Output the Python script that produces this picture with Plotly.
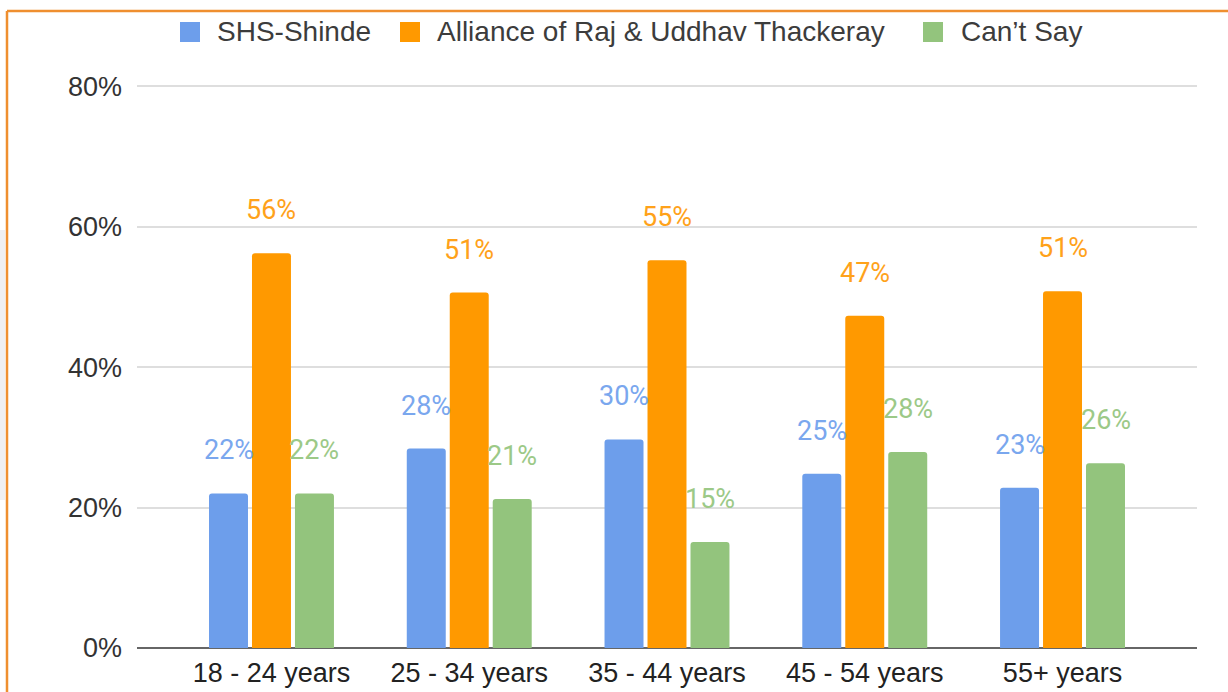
import plotly.graph_objects as go

categories = ["18 - 24 years", "25 - 34 years", "35 - 44 years", "45 - 54 years", "55+ years"]
series_names = ["SHS-Shinde", "Alliance of Raj & Uddhav Thackeray", "Can\u2019t Say"]
shs_shinde = [22.0, 28.4, 29.7, 24.8, 22.8]
alliance = [56.2, 50.6, 55.2, 47.3, 50.8]
cant_say = [22.0, 21.2, 15.1, 27.9, 26.3]
y_ticks = [0, 20, 40, 60, 80]

colors = ["#6d9eeb", "#ff9900", "#93c47d"]
label_colors = ["#7aa7ee", "#ffa21a", "#9cc987"]
series = [shs_shinde, alliance, cant_say]

W, H = 1228, 692
Y_TOP = 80.3
PX_PER_UNIT = 7.025
L, R, B = 137, 31, 44
T = round(86 - (Y_TOP - 80) * PX_PER_UNIT)
PW, PH = W - L - R, H - T - B
BARGAP = 0.348
GROUPGAP = 0.093


def px_x(p):
    return (p - L) / PW


def px_y(p):
    return (H - B - p) / PH


fig = go.Figure()
for name, vals, col in zip(series_names, series, colors):
    fig.add_trace(go.Bar(
        x=categories, y=vals, name=name, marker=dict(color=col, line=dict(width=0)),
        showlegend=False, hoverinfo="x+y+name",
    ))

slot = (1 - BARGAP) / len(series)
annotations = []
for k, (vals, lc) in enumerate(zip(series, label_colors)):
    for i, v in enumerate(vals):
        annotations.append(dict(
            x=i + (k - 1) * slot, y=v, xref="x", yref="y",
            text=f"{round(v)}%", showarrow=False, yanchor="bottom", xanchor="center",
            yshift=25, font=dict(family="Roboto", size=27, color=lc),
        ))

# custom legend (squares + text)
legend_items = [(180, 215), (400, 435), (923, 959)]
shapes = []
for (sq_x, tx), name, col in zip(legend_items, series_names, colors):
    shapes.append(dict(type="rect", xref="paper", yref="paper",
                       x0=px_x(sq_x), x1=px_x(sq_x + 20), y0=px_y(42), y1=px_y(22),
                       fillcolor=col, line=dict(width=0)))
    annotations.append(dict(x=px_x(tx), y=px_y(32), xref="paper", yref="paper",
                            text=name, showarrow=False, xanchor="left", yanchor="middle",
                            font=dict(family="Liberation Sans, Arial", size=28, color="#3c3c3c")))

# orange frame (top and left) and light gray side shadow
shapes.append(dict(type="rect", xref="paper", yref="paper",
                   x0=px_x(0), x1=px_x(5), y0=px_y(500), y1=px_y(230),
                   fillcolor="#efeff1", line=dict(width=0), layer="below"))
shapes.append(dict(type="line", xref="paper", yref="paper",
                   x0=px_x(7), x1=px_x(W + 2), y0=px_y(11), y1=px_y(11),
                   line=dict(color="#ef8f2f", width=2.5)))
shapes.append(dict(type="line", xref="paper", yref="paper",
                   x0=px_x(7), x1=px_x(7), y0=px_y(11), y1=px_y(H + 2),
                   line=dict(color="#ef8f2f", width=2.5)))

fig.update_layout(
    width=W, height=H, autosize=False,
    margin=dict(l=L, r=R, t=T, b=B, pad=0, autoexpand=False),
    paper_bgcolor="white", plot_bgcolor="white",
    barmode="group", bargap=BARGAP, bargroupgap=GROUPGAP, barcornerradius=3,
    annotations=annotations, shapes=shapes,
    showlegend=False,
    font=dict(family="Liberation Sans, Arial", size=27, color="#333333"),
    xaxis=dict(
        type="category", range=[-0.68, len(categories) - 1 + 0.68],
        showgrid=False, showline=False, zeroline=False, ticks="",
        tickfont=dict(family="Liberation Sans, Arial", size=27, color="#222222"),
        ticklabelstandoff=6, fixedrange=True, automargin=False,
    ),
    yaxis=dict(
        range=[0, Y_TOP], tickvals=y_ticks, ticktext=[f"{t}%" for t in y_ticks],
        showgrid=True, gridcolor="#dedede", gridwidth=2,
        zeroline=True, zerolinecolor="#666666", zerolinewidth=2,
        showline=False, ticks="",
        tickfont=dict(family="Liberation Sans, Arial", size=27, color="#333333"),
        ticklabelstandoff=14, fixedrange=True, automargin=False,
    ),
)

fig.write_html(
    "out.html",
    config={"displayModeBar": False, "responsive": False},
    post_script="document.body.style.margin='0px';document.body.style.overflow='hidden';",
)
